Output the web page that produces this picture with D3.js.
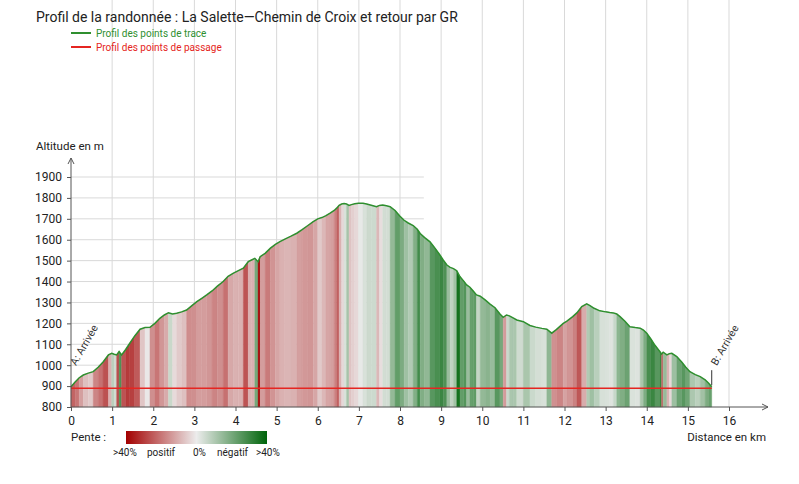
<!DOCTYPE html>
<html>
<head>
<meta charset="utf-8">
<script src="https://cdn.jsdelivr.net/npm/d3@7"></script>
<style>
  html, body { margin: 0; padding: 0; background: #fff; }
  svg { display: block; font-family: Roboto, "Noto Sans", sans-serif; }
</style>
</head>
<body>
<svg id="chart" width="799" height="484"></svg>
<script>
// ---- Data ----
const distanceKm = [
  0.00,0.10,0.20,0.30,0.42,0.54,0.66,0.78,0.91,0.99,1.05,1.11,1.17,1.23,1.33,1.43,1.55,1.68,1.80,1.92,
  2.04,2.16,2.27,2.37,2.47,2.57,2.69,2.81,2.94,3.06,3.18,3.30,3.43,3.56,3.70,3.82,3.95,4.07,4.19,4.31,
  4.39,4.47,4.55,4.60,4.72,4.85,4.97,5.08,5.20,5.35,5.49,5.62,5.76,5.89,6.00,6.10,6.20,6.30,6.40,6.46,
  6.52,6.58,6.64,6.70,6.76,6.82,6.90,6.99,7.10,7.19,7.30,7.43,7.50,7.58,7.67,7.76,7.88,8.00,8.10,8.20,
  8.32,8.42,8.49,8.60,8.73,8.85,8.97,9.05,9.14,9.22,9.30,9.38,9.46,9.55,9.62,9.70,9.78,9.86,9.95,10.07,
  10.19,10.31,10.43,10.51,10.59,10.66,10.75,10.84,11.00,11.16,11.30,11.45,11.57,11.69,11.80,11.97,12.05,12.20,12.30,12.42,
  12.54,12.62,12.72,12.86,13.00,13.10,13.19,13.27,13.35,13.47,13.59,13.72,13.84,13.92,14.00,14.10,14.20,14.32,14.36,14.40,
  14.49,14.55,14.61,14.73,14.85,14.95,15.05,15.18,15.30,15.42,15.50,15.58
];
const altitudeM = [
  897,920,940,953,962,969,990,1015,1049,1057,1052,1049,1065,1049,1075,1105,1140,1172,1180,1181,
  1200,1224,1240,1251,1245,1248,1255,1264,1285,1304,1320,1336,1355,1378,1400,1425,1440,1452,1464,1495,
  1503,1511,1495,1519,1535,1560,1578,1591,1603,1617,1631,1648,1668,1687,1700,1706,1715,1727,1740,1751,
  1765,1771,1773,1771,1764,1768,1772,1775,1774,1771,1765,1758,1764,1766,1762,1758,1740,1712,1693,1680,
  1668,1650,1630,1610,1590,1560,1527,1503,1479,1468,1462,1452,1423,1402,1384,1373,1355,1336,1330,1312,
  1292,1275,1245,1229,1240,1236,1226,1216,1208,1190,1182,1176,1172,1153,1170,1200,1210,1232,1250,1280,
  1293,1285,1272,1260,1255,1252,1250,1245,1232,1210,1184,1180,1177,1168,1153,1125,1095,1065,1053,1062,
  1049,1055,1057,1041,1015,990,969,955,945,930,915,897
];
const passageKm = [0, 15.58];
const passageAlt = [890, 890];
const passageLabels = ["A: Arrivée", "B: Arrivée"];

const xTicks = [0,1,2,3,4,5,6,7,8,9,10,11,12,13,14,15,16];
const yTicks = [800,900,1000,1100,1200,1300,1400,1500,1600,1700,1800,1900];
const slopeLegendLabels = [">40%", "positif", "0%", "négatif", ">40%"];

const titleText = "Profil de la randonnée : La Salette\u2014Chemin de Croix et retour par GR";
const legendItems = ["Profil des points de trace", "Profil des points de passage"];

// ---- Layout ----
const svg = d3.select("#chart");
const W = 799, H = 484;
const x0 = 71, x1 = 729, yBottom = 407, yTop = 177;

const x = d3.scaleLinear().domain([0, 16]).range([x0, x1]);
const y = d3.scaleLinear().domain([800, 1900]).range([yBottom, yTop]);

const GREEN = "#2f8f2f", RED = "#e52521", AXIS = "#555", GRID = "#d9d9d9";

svg.append("rect").attr("width", W).attr("height", H).attr("fill", "#fff");

// vertical grid lines (full height)
svg.append("g").selectAll("line").data(xTicks.filter(d => d > 0)).join("line")
  .attr("x1", d => x(d)).attr("x2", d => x(d))
  .attr("y1", 0).attr("y2", yBottom)
  .attr("stroke", GRID).attr("stroke-width", 1);

// horizontal grid lines (partial width)
svg.append("g").selectAll("line").data(yTicks.filter(d => d > 800)).join("line")
  .attr("x1", x0).attr("x2", x(8.58))
  .attr("y1", d => y(d)).attr("y2", d => y(d))
  .attr("stroke", GRID).attr("stroke-width", 1);

// slope color scale
const neutral = "#ececec";
const posColor = d3.scaleLinear().domain([0, 40]).range([neutral, "#a30000"]).interpolate(d3.interpolateRgb).clamp(true);
const negColor = d3.scaleLinear().domain([0, 40]).range([neutral, "#00640a"]).interpolate(d3.interpolateRgb).clamp(true);
function slopeColor(s) { return s >= 0 ? posColor(s) : negColor(-s); }

const pts = distanceKm.map((d, i) => ({ d, a: altitudeM[i] }));
const segs = d3.pairs(pts).map(([p, q]) => ({ p, q, s: (q.a - p.a) / ((q.d - p.d) * 1000) * 100 }));

const areaGen = d3.area().x(d => x(d.d)).y0(yBottom).y1(d => y(d.a));
svg.append("g").selectAll("path").data(segs).join("path")
  .attr("d", s => areaGen([s.p, s.q]))
  .attr("fill", s => slopeColor(s.s))
  .attr("stroke", s => slopeColor(s.s))
  .attr("stroke-width", 0.4);

// red passage line
svg.append("path")
  .datum(passageKm.map((d, i) => ({ d, a: passageAlt[i] })))
  .attr("d", d3.line().x(d => x(d.d)).y(d => y(d.a)))
  .attr("fill", "none").attr("stroke", RED).attr("stroke-width", 1.6);

// green profile line
svg.append("path").datum(pts)
  .attr("d", d3.line().x(d => x(d.d)).y(d => y(d.a)))
  .attr("fill", "none").attr("stroke", GREEN).attr("stroke-width", 1.5);

// axes
const xAxis = d3.axisBottom(x).tickValues(xTicks).tickSize(4).tickFormat(d3.format("d"));
const gx = svg.append("g").attr("transform", `translate(0,${yBottom})`).call(xAxis);
gx.select(".domain").remove();
gx.selectAll(".tick line").attr("stroke", AXIS);
gx.selectAll(".tick text").attr("font-size", 12).attr("fill", "#222").attr("dy", "0.95em")
  .attr("font-family", "Roboto, sans-serif");

const yAxis = d3.axisLeft(y).tickValues(yTicks).tickSize(4).tickFormat(d3.format("d"));
const gy = svg.append("g").attr("transform", `translate(${x0},0)`).call(yAxis);
gy.select(".domain").remove();
gy.selectAll(".tick line").attr("stroke", AXIS);
gy.selectAll(".tick text").attr("font-size", 12).attr("fill", "#222").attr("x", -9)
  .attr("font-family", "Roboto, sans-serif");

// axis lines with arrows
svg.append("line").attr("x1", x0).attr("x2", 768).attr("y1", yBottom).attr("y2", yBottom)
  .attr("stroke", AXIS).attr("stroke-width", 1);
svg.append("path").attr("d", `M762,404 L768,${yBottom} L762,410`).attr("fill", "none").attr("stroke", AXIS);
svg.append("line").attr("x1", x0).attr("x2", x0).attr("y1", yBottom).attr("y2", 158)
  .attr("stroke", AXIS).attr("stroke-width", 1);
svg.append("path").attr("d", `M68,164 L${x0},158 L74,164`).attr("fill", "none").attr("stroke", AXIS);

// axis titles
svg.append("text").attr("x", 36).attr("y", 150).attr("font-size", 11.5).attr("fill", "#222").text("Altitude en m");
svg.append("text").attr("x", 766).attr("y", 441).attr("text-anchor", "end").attr("font-size", 11.5).attr("fill", "#222").text("Distance en km");

// passage point labels
passageKm.forEach((d, i) => {
  const px = x(d), py = y(passageAlt[i]) - 3;
  if (i > 0) {
    svg.append("line").attr("x1", px).attr("x2", px).attr("y1", py).attr("y2", py - 15)
      .attr("stroke", "#333").attr("stroke-width", 1);
  }
  svg.append("text")
    .attr("transform", `translate(${px + 5},${py - 19}) rotate(-60)`)
    .attr("font-size", 10.5).attr("fill", "#333").text(passageLabels[i]);
});

// title & legend
svg.append("text").attr("x", 36).attr("y", 22).attr("font-size", 14).attr("fill", "#222").text(titleText);
const legColors = [GREEN, RED];
legendItems.forEach((t, i) => {
  const ly = 33 + i * 14;
  svg.append("line").attr("x1", 71).attr("x2", 91).attr("y1", ly).attr("y2", ly)
    .attr("stroke", legColors[i]).attr("stroke-width", 2);
  svg.append("text").attr("x", 96).attr("y", ly + 3.5).attr("font-size", 10).attr("fill", legColors[i]).text(t);
});

// slope gradient legend
const defs = svg.append("defs");
const grad = defs.append("linearGradient").attr("id", "slopeGrad");
[40, 20, 0, -20, -40].forEach((s, i) => {
  grad.append("stop").attr("offset", (i * 25) + "%").attr("stop-color", slopeColor(s));
});
svg.append("text").attr("x", 71).attr("y", 441).attr("font-size", 11.5).attr("fill", "#222").text("Pente :");
svg.append("rect").attr("x", 126).attr("y", 431).attr("width", 141).attr("height", 13).attr("fill", "url(#slopeGrad)");
const legX = [113, 147, 193, 217, 256];
slopeLegendLabels.forEach((t, i) => {
  svg.append("text").attr("x", legX[i]).attr("y", 456).attr("font-size", 10).attr("fill", "#222").text(t);
});
</script>
</body>
</html>
